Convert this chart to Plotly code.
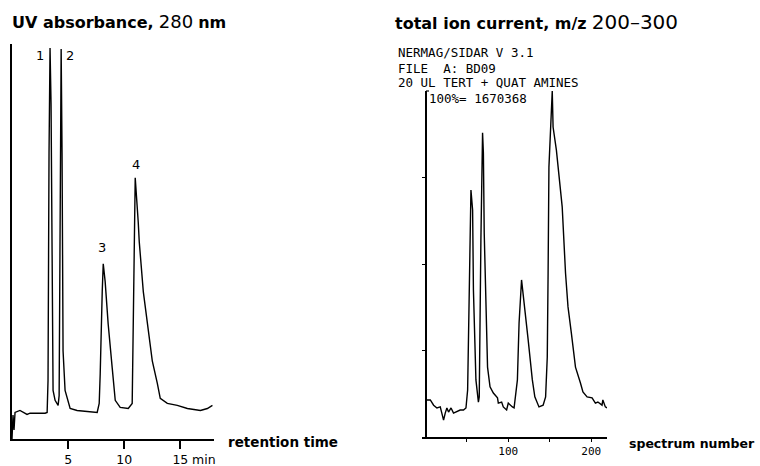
import plotly.graph_objects as go

# ---- UV absorbance trace (retention time in min, relative absorbance %) ----
uv_time = [0.0, 0.09, 0.18, 0.27, 0.71, 1.16, 1.34, 1.61, 2.95, 3.13, 3.21, 3.30, 3.39, 3.48, 3.57,
           3.66, 3.84, 4.02, 4.11, 4.20, 4.29, 4.38, 4.46, 4.55, 4.73, 5.00, 5.18, 5.80, 7.59,
           7.77, 7.86, 8.04, 8.13, 8.30, 8.57, 8.93, 9.20, 9.64, 10.36, 10.71, 10.80, 10.89,
           10.98, 11.25, 11.34, 11.70, 12.05, 12.50, 12.95, 13.21, 13.84, 14.73, 15.63, 16.79,
           17.41, 17.86]
uv_abs = [0.0, 6.1, 2.3, 6.8, 7.3, 6.6, 6.3, 6.6, 6.6, 6.8, 14.9, 73.2, 100.0, 85.8, 35.2,
          12.4, 9.9, 9.1, 8.6, 11.1, 47.8, 99.7, 73.2, 22.5, 12.4, 9.9, 7.8, 7.3, 6.8,
          9.1, 16.7, 37.7, 44.8, 40.3, 29.4, 18.2, 9.9, 8.1, 7.8, 9.1, 25.1, 50.4,
          66.8, 55.4, 50.4, 37.7, 29.4, 20.0, 14.2, 10.4, 9.1, 8.6, 7.8, 7.3,
          7.8, 8.6]

uv_ticks = [5, 10, 15]
uv_ticklabels = ["5", "10", "15"]

# peak labels
peak_names = ["1", "2", "3", "4"]

# ---- Total ion current trace (spectrum number, % of 1670368) ----
tic_spec = [2, 6, 10, 14, 18, 22, 24, 26, 28, 31, 34, 39, 42, 46, 49, 51, 52, 53, 55, 57, 58,
            61, 64, 65, 66, 67, 69, 70, 71, 73, 75, 78, 82, 87, 88, 92, 94, 98, 100, 105,
            107, 111, 113, 116, 118, 120, 124, 129, 132, 137, 142, 145, 147, 148, 149, 153,
            154, 158, 160, 165, 169, 172, 176, 181, 187, 190, 195, 201, 205, 208, 213, 214,
            217, 219]
tic_pct = [10.7, 10.7, 9.2, 8.4, 8.7, 4.9, 6.9, 8.4, 7.2, 8.4, 6.9, 7.5, 7.8, 7.8, 8.4, 13.6,
           28.0, 47.4, 71.4, 65.6, 42.5, 16.5, 10.1, 11.6, 37.6, 56.9, 87.9, 82.1, 59.0,
           37.6, 20.2, 14.5, 12.7, 11.3, 9.8, 10.1, 8.7, 7.8, 9.8, 8.7, 8.4, 16.5, 32.9,
           45.4, 40.5, 37.6, 28.0, 16.5, 11.6, 8.7, 9.2, 11.6, 23.1, 47.4, 78.0, 100.0,
           89.6, 82.9, 78.0, 66.5, 47.4, 37.6, 30.1, 20.2, 15.6, 13.0, 11.6, 11.3, 9.8,
           10.1, 9.2, 10.7, 8.7, 8.4]

tic_ticks = [50, 100, 150, 200]
tic_ticklabels = ["", "100", "", "200"]
tic_yticks = [25, 50, 75]

header_lines = ["NERMAG/SIDAR V 3.1", "FILE  A: BD09", "20 UL TERT + QUAT AMINES"]
full_scale = "100%= 1670368"

W, H = 760, 466


def px(x):
    return x / W


def py(y):
    return 1 - y / H


fig = go.Figure()
fig.add_trace(go.Scatter(x=uv_time, y=uv_abs, mode="lines", xaxis="x", yaxis="y",
                         line=dict(color="black", width=1.4), hoverinfo="skip"))
fig.add_trace(go.Scatter(x=tic_spec, y=tic_pct, mode="lines", xaxis="x2", yaxis="y2",
                         line=dict(color="black", width=1.4), hoverinfo="skip"))

axis_font = dict(family="DejaVu Sans", size=12.5, color="black")
mono_font = dict(family="DejaVu Sans Mono", size=12.5, color="black")

fig.update_layout(
    width=W, height=H, margin=dict(l=0, r=0, t=0, b=0),
    paper_bgcolor="white", plot_bgcolor="white", showlegend=False,
    xaxis=dict(domain=[px(12), px(214)], range=[0, 18], showgrid=False, zeroline=False,
               showline=True, linecolor="black", linewidth=1.5,
               ticks="outside", ticklen=8, tickwidth=1.5, tickcolor="black",
               tickvals=uv_ticks, ticktext=uv_ticklabels, tickfont=axis_font,
               anchor="y", automargin=False),
    yaxis=dict(domain=[py(439), py(44)], range=[0, 101], showgrid=False, zeroline=False,
               showline=True, linecolor="black", linewidth=1.5, showticklabels=False,
               ticks="", anchor="x", automargin=False),
    xaxis2=dict(domain=[px(422), px(607)], range=[-4, 219], showgrid=False, zeroline=False,
                showline=True, linecolor="black", linewidth=1.5,
                ticks="outside", ticklen=3, tickwidth=1.2, tickcolor="black",
                tickvals=tic_ticks, ticktext=tic_ticklabels,
                tickfont=dict(family="DejaVu Sans Mono", size=11, color="black"),
                anchor="y2", automargin=False),
    yaxis2=dict(domain=[py(437), py(91)], range=[0, 100], showgrid=False, zeroline=False,
                showline=True, linecolor="black", linewidth=1.5, showticklabels=False,
                ticks="outside", ticklen=3, tickwidth=1.2, tickcolor="black",
                tickvals=tic_yticks, anchor="free", position=px(426), automargin=False),
)

annotations = []
annotations.append(dict(
    text="<b>UV absorbance,</b> <span style='font-size:18px'>280</span> <b>nm</b>",
    x=px(10), y=py(22), xref="paper", yref="paper", xanchor="left", yanchor="middle",
    showarrow=False, font=dict(family="DejaVu Sans", size=16, color="black")))
annotations.append(dict(
    text="<b>total ion current, m/z</b> <span style='font-size:20px'>200\u2013300</span>",
    x=px(393), y=py(22), xref="paper", yref="paper", xanchor="left", yanchor="middle",
    showarrow=False, font=dict(family="DejaVu Sans", size=16, color="black")))
annotations.append(dict(text="<b>retention time</b>", x=px(226), y=py(442), xref="paper",
                        yref="paper", xanchor="left", yanchor="middle", showarrow=False,
                        font=dict(family="DejaVu Sans", size=13.5, color="black")))
annotations.append(dict(text="<b>spectrum number</b>", x=px(627), y=py(443), xref="paper",
                        yref="paper", xanchor="left", yanchor="middle", showarrow=False,
                        font=dict(family="DejaVu Sans", size=12.5, color="black")))
annotations.append(dict(text="min", x=px(190), y=py(459), xref="paper", yref="paper",
                        xanchor="left", yanchor="middle", showarrow=False, font=axis_font))
# peak numbers
for name, (ax_, ay_) in zip(peak_names, [(40, 55), (70, 56), (102, 247), (136, 165)]):
    annotations.append(dict(text=name, x=px(ax_), y=py(ay_), xref="paper", yref="paper",
                            xanchor="center", yanchor="middle", showarrow=False,
                            font=dict(family="DejaVu Sans", size=13, color="black")))
# instrument header
for i, line in enumerate(header_lines):
    annotations.append(dict(text=line.replace(" ", "&nbsp;"), x=px(396), y=py(53 + 15 * i),
                            xref="paper", yref="paper", xanchor="left", yanchor="middle",
                            showarrow=False, font=mono_font))
annotations.append(dict(text=full_scale.replace(" ", "&nbsp;"), x=px(427), y=py(99),
                        xref="paper", yref="paper", xanchor="left", yanchor="middle",
                        showarrow=False, font=mono_font))
fig.update_layout(annotations=annotations)

# small hook at top of the TIC axis
fig.add_shape(type="line", xref="paper", yref="paper", x0=px(426), x1=px(429),
              y0=py(91), y1=py(91), line=dict(color="black", width=1.2))

fig.write_html("out.html", config={"displayModeBar": False},
               post_script="document.body.style.margin='0';document.body.style.overflow='hidden';")
